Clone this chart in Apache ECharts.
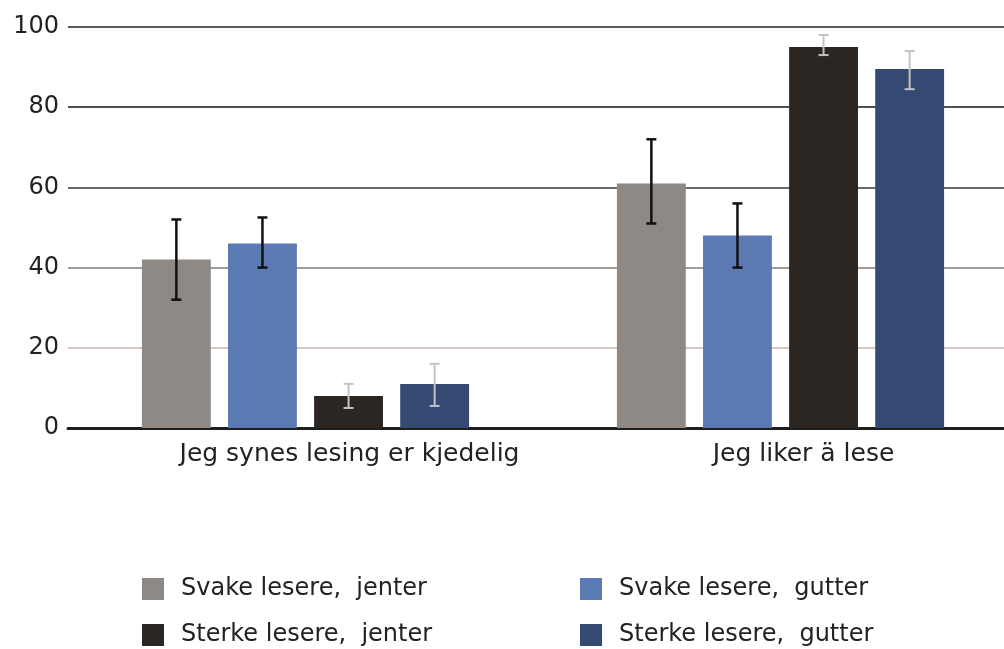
<!DOCTYPE html>
<html>
<head>
<meta charset="utf-8">
<script src="https://cdn.jsdelivr.net/npm/echarts@6/dist/echarts.min.js"></script>
<style>html,body{margin:0;padding:0;background:#fff;}#c{width:1004px;height:649px;}</style>
</head>
<body>
<div id="c"></div>
<script>
const categories = ['Jeg synes lesing er kjedelig', 'Jeg liker ä lese'];
const seriesNames = ['Svake lesere,  jenter', 'Svake lesere,  gutter', 'Sterke lesere,  jenter', 'Sterke lesere,  gutter'];
const svakeJenter = [42, 61];
const svakeGutter = [46, 48];
const sterkeJenter = [8, 95];
const sterkeGutter = [11, 89.5];
const svakeJenterLow = [32, 51];
const svakeJenterHigh = [52, 72];
const svakeGutterLow = [40, 40];
const svakeGutterHigh = [52.5, 56];
const sterkeJenterLow = [5, 93];
const sterkeJenterHigh = [11, 98];
const sterkeGutterLow = [5.5, 84.5];
const sterkeGutterHigh = [16, 94];
const yTicks = [0, 20, 40, 60, 80, 100];

const colors = ['#8e8984', '#5b7ab4', '#2b2622', '#344a72'];
const errColors = ['#111111', '#111111', '#c4c4c4', '#c4c4c4'];
const values = [svakeJenter, svakeGutter, sterkeJenter, sterkeGutter];
const lows = [svakeJenterLow, svakeGutterLow, sterkeJenterLow, sterkeGutterLow];
const highs = [svakeJenterHigh, svakeGutterHigh, sterkeJenterHigh, sterkeGutterHigh];

const BAR_FRAC = 0.145, GAP_FRAC = 0.25;
const FONT = '"DejaVu Sans", "Liberation Sans", Arial, sans-serif';

const series = [];
values.forEach((v, i) => {
  series.push({
    name: seriesNames[i], type: 'bar', data: v,
    barWidth: (BAR_FRAC * 100) + '%', barGap: (GAP_FRAC * 100) + '%',
    itemStyle: { color: colors[i] }, z: 2
  });
});
lows.forEach((lo, i) => {
  const data = lo.map((l, j) => [j, l, highs[i][j]]);
  series.push({
    type: 'custom', name: 'err' + i, z: 5, silent: true,
    data: data,
    encode: { x: 0, y: [1, 2] },
    renderItem: function (params, api) {
      const band = api.size([1, 0])[0];
      const bw = band * BAR_FRAC, gap = bw * GAP_FRAC;
      const total = 4 * bw + 3 * gap;
      const off = -total / 2 + i * (bw + gap) + bw / 2;
      const pLo = api.coord([api.value(0), api.value(1)]);
      const pHi = api.coord([api.value(0), api.value(2)]);
      const x = pLo[0] + off;
      const cap = 5;
      const st = { stroke: errColors[i], lineWidth: i < 2 ? 2.5 : 2 };
      return { type: 'group', children: [
        { type: 'line', shape: { x1: x, y1: pLo[1], x2: x, y2: pHi[1] }, style: st },
        { type: 'line', shape: { x1: x - cap, y1: pLo[1], x2: x + cap, y2: pLo[1] }, style: st },
        { type: 'line', shape: { x1: x - cap, y1: pHi[1], x2: x + cap, y2: pHi[1] }, style: st }
      ]};
    }
  });
});

const legendPos = [[142, 577], [580, 577], [142, 623], [580, 623]];
const legends = seriesNames.map((n, i) => ({
  data: [n], left: legendPos[i][0], top: legendPos[i][1], padding: 0,
  itemWidth: 22, itemHeight: 22, icon: 'rect', selectedMode: false,
  textStyle: { fontFamily: FONT, fontSize: 24, color: '#222', padding: [0, 0, 0, 12] }
}));

const chart = echarts.init(document.getElementById('c'));
chart.setOption({
  backgroundColor: '#ffffff',
  animation: false,
  color: colors,
  legend: legends,
  grid: { left: 68, width: 950, top: 27, bottom: 221, containLabel: false, outerBoundsMode: 'none' },
  xAxis: {
    type: 'category', data: categories,
    axisTick: { show: false },
    axisLine: { lineStyle: { color: '#1e1e1e', width: 3 } },
    axisLabel: {
      interval: 0, hideOverlap: false,
      fontFamily: FONT, fontSize: 25, color: '#222', margin: 14,
      formatter: function (v, idx) { return '{c' + idx + '|' + v + '}'; },
      rich: {
        c0: { fontFamily: FONT, fontSize: 25, color: '#222', padding: [0, 0, 0, 88] },
        c1: { fontFamily: FONT, fontSize: 25, color: '#222', padding: [0, 0, 0, 46] }
      }
    }
  },
  yAxis: {
    type: 'value', min: yTicks[0], max: yTicks[yTicks.length - 1], interval: 20,
    axisLine: { show: false }, axisTick: { show: false },
    axisLabel: { fontFamily: FONT, fontSize: 24, color: '#222', margin: 9 },
    splitLine: { lineStyle: { color: ['#222', '#dcc4c4', '#a09c9c', '#6a6a6a', '#505050', '#5a5a5a'], width: 2 } }
  },
  series: series
});
</script>
</body>
</html>
